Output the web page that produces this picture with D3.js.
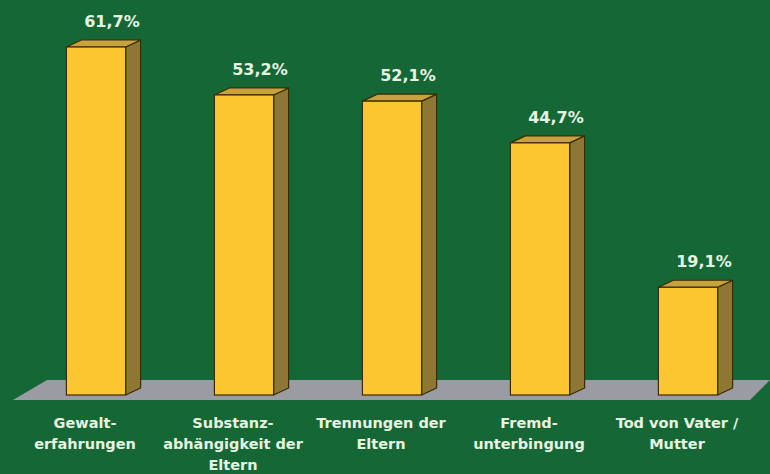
<!DOCTYPE html>
<html><head><meta charset="utf-8">
<script src="https://cdn.jsdelivr.net/npm/d3@7"></script>
<style>html,body{margin:0;padding:0;background:#156835;}svg{display:block;}</style>
</head><body>
<svg id="c" width="770" height="474"></svg>
<script>
const categories = [
  ["Gewalt-", "erfahrungen"],
  ["Substanz-", "abhängigkeit der", "Eltern"],
  ["Trennungen der", "Eltern"],
  ["Fremd-", "unterbingung"],
  ["Tod von Vater /", "Mutter"]
];
const values = [61.7, 53.2, 52.1, 44.7, 19.1];
const valueLabels = ["61,7%", "53,2%", "52,1%", "44,7%", "19,1%"];

const W = 770, H = 474;
const svg = d3.select("#c");
svg.append("rect").attr("width", W).attr("height", H).attr("fill", "#156835");

const x = d3.scaleBand().domain(d3.range(values.length)).range([22, 762]).paddingInner(0.6).paddingOuter(0.3);
const baseY = 395;
const y = d3.scaleLinear().domain([0, 61.7]).range([baseY, 47]);
const dx = 15, dy = -7;

// floor
const fTop = 380, fBot = 400;
svg.append("polygon")
  .attr("points", [[13, fBot], [47, fTop], [770, fTop], [750, fBot]].map(p => p.join(",")).join(" "))
  .attr("fill", "#9a9ba3");

const g = svg.append("g");
values.forEach((v, i) => {
  const x0 = x(i), x1 = x(i) + x.bandwidth(), yt = y(v);
  const bar = g.append("g");
  bar.append("polygon")
    .attr("points", [[x1, yt], [x1 + dx, yt + dy], [x1 + dx, baseY + dy], [x1, baseY]].map(p => p.join(",")).join(" "))
    .attr("fill", "#8d7732").attr("stroke", "#3a2c06").attr("stroke-width", 1.2).attr("stroke-linejoin", "round");
  bar.append("polygon")
    .attr("points", [[x0, yt], [x0 + dx, yt + dy], [x1 + dx, yt + dy], [x1, yt]].map(p => p.join(",")).join(" "))
    .attr("fill", "#c8a23c").attr("stroke", "#3a2c06").attr("stroke-width", 1.2).attr("stroke-linejoin", "round");
  bar.append("rect")
    .attr("x", x0).attr("y", yt).attr("width", x.bandwidth()).attr("height", baseY - yt)
    .attr("fill", "#fcc631").attr("stroke", "#3a2c06").attr("stroke-width", 1.2);
  svg.append("text")
    .attr("x", x0 + x.bandwidth() / 2 + 16).attr("y", yt + dy - 13)
    .attr("text-anchor", "middle")
    .attr("font-family", "DejaVu Sans, sans-serif").attr("font-weight", "bold").attr("font-size", 16)
    .attr("fill", "#e9f3e2")
    .text(valueLabels[i]);
  const t = svg.append("text")
    .attr("text-anchor", "middle")
    .attr("font-family", "DejaVu Sans, sans-serif").attr("font-weight", "bold").attr("font-size", 14.5)
    .attr("fill", "#e9f3e2");
  categories[i].forEach((line, j) => {
    t.append("tspan").attr("x", x0 + x.bandwidth() / 2 - 11).attr("y", 428 + j * 21).text(line);
  });
});
</script>
</body></html>
